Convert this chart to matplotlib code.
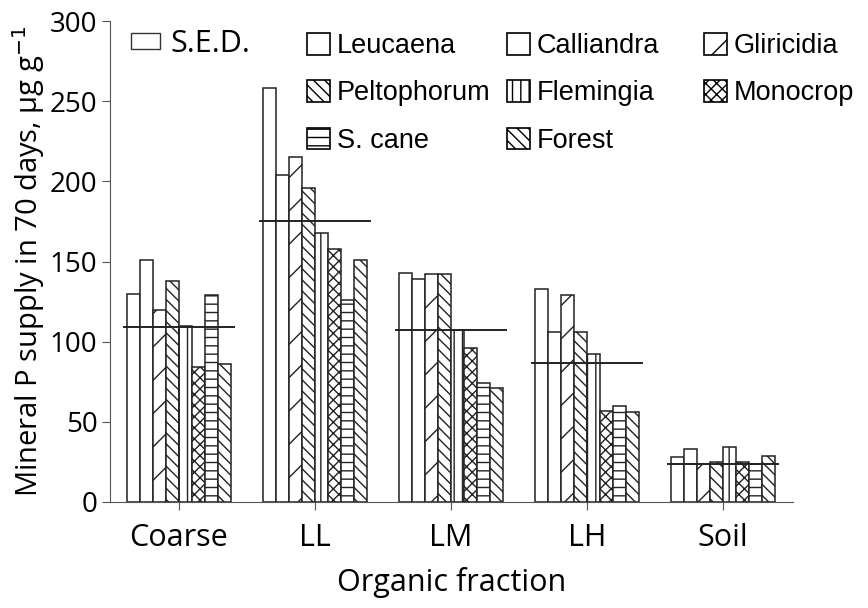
import numpy as np
import matplotlib
matplotlib.use("Agg")
import matplotlib.pyplot as plt
from matplotlib.patches import Patch

plt.rcParams["font.family"] = ["Open Sans", "DejaVu Sans"]
plt.rcParams["hatch.linewidth"] = 1.0

categories = ["Coarse", "LL", "LM", "LH", "Soil"]
series_names = ["Leucaena", "Calliandra", "Gliricidia", "Peltophorum",
                "Flemingia", "Monocrop", "S. cane", "Forest"]
leucaena    = [130, 258, 143, 133, 28]
calliandra  = [151, 204, 139, 106, 33]
gliricidia  = [120, 215, 142, 129, 24]
peltophorum = [138, 196, 142, 106, 25]
flemingia   = [110, 168, 107, 92, 34]
monocrop    = [84, 158, 96, 57, 25]
scane       = [129, 126, 74, 60, 24]
forest      = [86, 151, 71, 56, 29]
sed         = [109, 175, 107, 87, 24]

series = [leucaena, calliandra, gliricidia, peltophorum,
          flemingia, monocrop, scane, forest]
hatches = ["", "", "/", "\\\\\\", "||", "xxx", "--", "\\\\\\"]

fig = plt.figure(figsize=(8.68, 6.08), dpi=100)
ax = fig.add_axes([110/868, 1-502/608, (793-110)/868, (502-21)/608])

x = np.arange(len(categories))
w = 0.0956
for i, (vals, h) in enumerate(zip(series, hatches)):
    ax.bar(x + (i - 3.5)*w, vals, w, color="white", edgecolor="#222222",
           lw=1.1, hatch=h)
ax.hlines(sed, x - 4.3*w, x + 4.3*w, color="#222222", lw=1.4)

ax.set_xlim(-0.507, 4.515)
ax.set_ylim(0, 300)
ax.set_yticks(range(0, 301, 50))
ax.set_xticks(x)
ax.set_xticklabels(categories)
for s in ["top", "right"]:
    ax.spines[s].set_visible(False)
for s in ["left", "bottom"]:
    ax.spines[s].set_color("#555555")
ax.tick_params(axis="y", labelsize=20, length=6, color="#555555", pad=3)
ax.tick_params(axis="x", labelsize=22, length=6, color="#555555", pad=9)
ax.set_xlabel("Organic fraction", fontsize=22, labelpad=10)
ax.set_ylabel("Mineral P supply in 70 days, µg g$^{-1}$", fontsize=21, labelpad=2)

# legend: three separate columns so they can sit where the original has them
handles = [Patch(facecolor="white", edgecolor="black", hatch=h, lw=1.2)
           for h in hatches]
leg_font = {"family": ["Liberation Sans", "DejaVu Sans"], "size": 19.5}
columns = [([0, 3, 6], 307), ([1, 4, 7], 507), ([2, 5], 704)]
for idx, xpos in columns:
    fig.legend([handles[k] for k in idx], [series_names[k] for k in idx],
               loc="upper left", bbox_to_anchor=(xpos/868, 1-33/608),
               frameon=False, prop=leg_font, handlelength=0.85, handleheight=0.85,
               handletextpad=0.25, labelspacing=0.78,
               borderpad=0, borderaxespad=0)
sed_leg = Patch(facecolor="white", edgecolor="#333333", lw=1.0)
fig.legend([sed_leg], ["S.E.D."], loc="upper left",
           bbox_to_anchor=(131/868, 1-29/608), fontsize=22, frameon=False,
           handlelength=0.95, handleheight=0.45, handletextpad=0.35,
           borderpad=0, borderaxespad=0)

plt.savefig("out.png", dpi=100)
plt.close()
